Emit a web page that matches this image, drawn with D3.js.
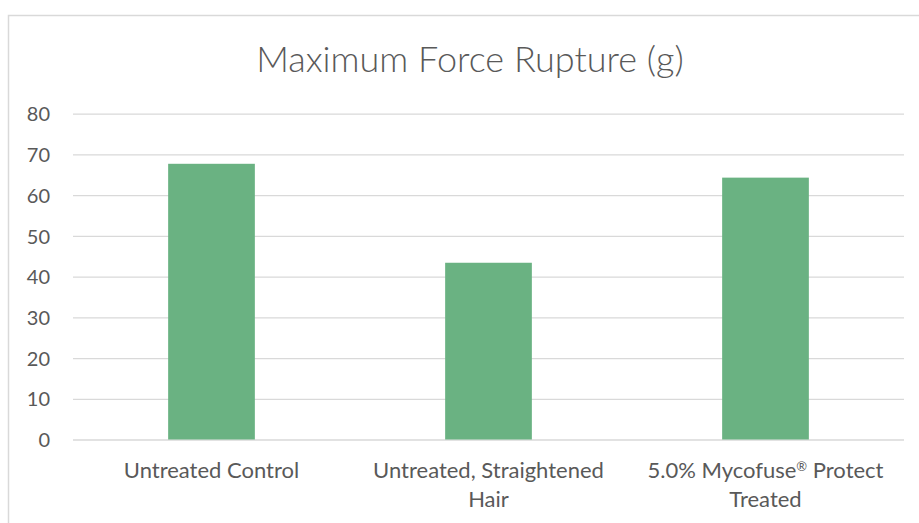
<!DOCTYPE html>
<html>
<head>
<meta charset="utf-8">
<script src="https://cdn.jsdelivr.net/npm/d3@7"></script>
<style>
  html, body { margin: 0; padding: 0; background: #ffffff; }
  svg { display: block; }
  text { font-family: Lato, "Open Sans", sans-serif; fill: #595959; }
</style>
</head>
<body>
<svg id="chart" width="919" height="523"></svg>
<script>
// Chart data
const categories = [
  ["Untreated Control"],
  ["Untreated, Straightened", "Hair"],
  ["5.0% Mycofuse\u00AE Protect", "Treated"]
];
const values = [67.7, 43.4, 64.3];
const yTicks = [0, 10, 20, 30, 40, 50, 60, 70, 80];
const title = "Maximum Force Rupture (g)";

const width = 919, height = 523;
const margin = { top: 113.7, right: 15, bottom: 83.5, left: 73 };

const svg = d3.select("#chart");

// Outer chart frame (extends past the right and bottom edges)
svg.append("rect")
  .attr("x", 8.5).attr("y", 15.5)
  .attr("width", 1000).attr("height", 1000)
  .attr("fill", "none")
  .attr("stroke", "#d9d9d9")
  .attr("stroke-width", 1.5);

const x = d3.scaleBand()
  .domain(categories.map((d, i) => i))
  .range([margin.left, width - margin.right])
  .paddingInner(0.687)
  .paddingOuter(0.3435);

const y = d3.scaleLinear()
  .domain([0, 80])
  .range([height - margin.bottom, margin.top]);

// Gridlines + y labels
const yAxis = d3.axisLeft(y)
  .tickValues(yTicks)
  .tickSize(-(width - margin.right - margin.left))
  .tickPadding(23);

const gy = svg.append("g")
  .attr("transform", `translate(${margin.left},0)`)
  .call(yAxis);
gy.select(".domain").remove();
gy.selectAll(".tick line").attr("stroke", "#d9d9d9").attr("stroke-width", 1.3);
gy.selectAll(".tick text")
  .attr("fill", "#595959")
  .style("font-size", "20px")
  .style("font-family", "Lato, 'Open Sans', sans-serif")
  .attr("dy", "0.36em");

// Bars
svg.append("g")
  .selectAll("rect")
  .data(values)
  .join("rect")
  .attr("x", (d, i) => x(i))
  .attr("width", x.bandwidth())
  .attr("y", d => y(d))
  .attr("height", d => y(0) - y(d))
  .attr("fill", "#6ab282");

// Category labels, one <text> per line; a registered mark is set small and raised
const lineGap = 29;
const xg = svg.append("g");
categories.forEach((lines, i) => {
  const cx = x(i) + x.bandwidth() / 2;
  lines.forEach((line, j) => {
    const t = xg.append("text")
      .attr("text-anchor", "middle")
      .attr("x", cx)
      .attr("y", 478 + j * lineGap)
      .style("font-size", "22px");
    const parts = line.split("\u00AE");
    parts.forEach((part, k) => {
      if (k > 0) {
        t.append("tspan")
          .attr("dy", -7)
          .style("font-size", "13px")
          .text("\u00AE");
        t.append("tspan").attr("dy", 7).text(part);
      } else {
        t.append("tspan").text(part);
      }
    });
  });
});

// Title
svg.append("text")
  .attr("x", 470)
  .attr("y", 72)
  .attr("text-anchor", "middle")
  .style("font-size", "36px")
  .style("font-weight", 300)
  .text(title);
</script>
</body>
</html>
